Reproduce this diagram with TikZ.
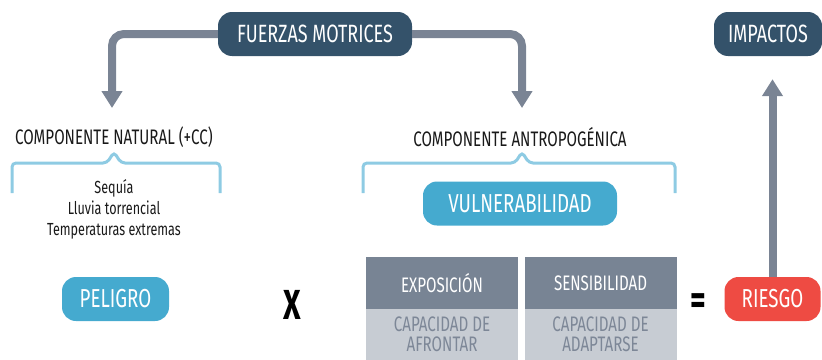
\documentclass[tikz,border=0pt]{standalone}
\usepackage{fontspec}
\setmainfont[FakeStretch=0.72]{Fira Sans}
\usepackage{xcolor}
\usetikzlibrary{arrows.meta}

\definecolor{pizarra}{HTML}{34526A}
\definecolor{flechagris}{HTML}{7A8494}
\definecolor{azul}{HTML}{45AACF}
\definecolor{celeste}{HTML}{8ECBE3}
\definecolor{rojo}{HTML}{EE4B43}
\definecolor{celdaosc}{HTML}{788494}
\definecolor{celdaclara}{HTML}{C7CCD3}
\definecolor{textoclaro}{HTML}{7D8797}

\tikzset{
  caja/.style={rounded corners=14pt, minimum height=44pt, text=white, font=\fontsize{25}{25}\selectfont},
  cajaosc/.style={caja, fill=pizarra},
  cajaazul/.style={caja, fill=azul, font=\fontsize{26}{26}\selectfont},
  cajaroja/.style={caja, fill=rojo, font=\fontsize{26}{26}\selectfont},
  flecha/.style={-{Triangle[width=20pt,length=17pt]}, line width=8pt, flechagris, rounded corners=12pt},
  llave/.style={line width=3pt, celeste, rounded corners=4pt},
  rotulo/.style={text=black!90, font=\fontsize{21}{21}\selectfont},
  celdaos/.style={fill=celdaosc, text=white, minimum width=152pt, minimum height=52pt, font=\fontsize{21}{21}\selectfont},
  celdacl/.style={fill=celdaclara, text=textoclaro, minimum width=152pt, minimum height=51pt, align=center, font=\fontsize{21}{20}\selectfont}
}

\begin{document}
\begin{tikzpicture}[x=1pt,y=-1pt]
\useasboundingbox (0,0) rectangle (822,359);
% cajas de arriba
\node[cajaosc, minimum width=194pt] (fuerzas) at (315,34) {FUERZAS MOTRICES};
\node[cajaosc, minimum width=108pt] (impactos) at (768,34) {IMPACTOS};
% componentes
\node[rotulo] (natural) at (114,137) {COMPONENTE NATURAL (+CC)};
\node[rotulo] (antro) at (520,137) {COMPONENTE ANTROPOGÉNICA};
\coordinate (puntanat) at (112,108);
\coordinate (puntaantro) at (522,108);
\draw[flecha] (fuerzas.west) -| (puntanat);
\draw[flecha] (fuerzas.east) -| (puntaantro);
% llaves
\draw[llave] (12,193) -- (12,163) -- (107,163) -- (114,152) -- (121,163) -- (220,163) -- (220,193);
\draw[llave] (363,193) -- (363,163) -- (515,163) -- (522,152) -- (529,163) -- (675,163) -- (675,193);
\node[align=center, text=black!90, font=\fontsize{17.5}{21}\selectfont] (peligros) at (114,209) {Sequía\\Lluvia torrencial\\Temperaturas extremas};
% fila de abajo
\node[cajaazul, minimum width=107pt] (peligro) at (115.5,299) {PELIGRO};
\node[cajaazul, minimum width=194pt] (vulnera) at (520,203.5) {VULNERABILIDAD};
\node[font=\bfseries\fontsize{42}{42}\selectfont] (por) at (292,304.5) {X};
\node[celdaos] (expo) at (442,283) {EXPOSICIÓN};
\node[celdaos] (sensi) at (600.5,283) {SENSIBILIDAD};
\node[celdacl] (afrontar) at (442,334.5) {CAPACIDAD DE\\AFRONTAR};
\node[celdacl] (adaptar) at (600.5,334.5) {CAPACIDAD DE\\ADAPTARSE};
\node[font=\bfseries\fontsize{42}{42}\selectfont] (igual) at (698,304) {=};
\node[cajaroja, minimum width=96pt] (riesgo) at (772.5,299) {RIESGO};
\draw[flecha, shorten >=23pt] (riesgo.north) -- (riesgo.north |- impactos.south);
\end{tikzpicture}
\end{document}
